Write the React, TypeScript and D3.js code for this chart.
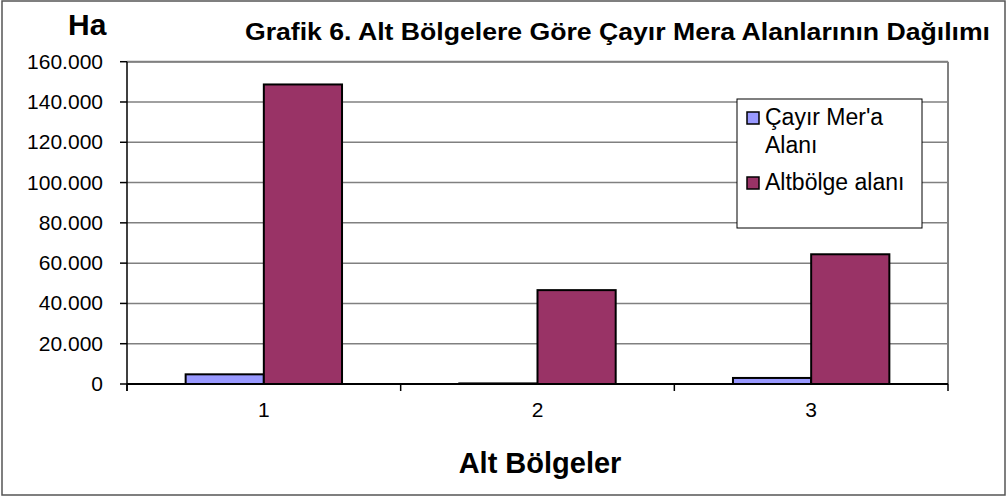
import * as d3 from "d3";

const categories = ["1", "2", "3"];
const seriesNames = ["Çayır Mer'a Alanı", "Altbölge alanı"];
const cayirMeraValues = [4800, 300, 3000];
const altbolgeValues = [148700, 46600, 64400];
const yTicks = [0, 20000, 40000, 60000, 80000, 100000, 120000, 140000, 160000];
const colors = ["#9999FF", "#993366"];

const W = 1007;
const H = 497;
const plot = { left: 127, right: 948, top: 61.7, bottom: 384 };
const font = "'Liberation Sans', Arial, sans-serif";

const trLocale = d3.formatLocale({ decimal: ",", thousands: ".", grouping: [3], currency: ["", ""] });
const fmt = trLocale.format(",d");

export default function App() {
  const x = d3.scaleBand<string>().domain(categories).range([plot.left, plot.right]);
  const y = d3.scaleLinear().domain([0, 160000]).range([plot.bottom, plot.top]);
  // gap width 150% -> group = 2 bars out of 3.5 bar widths
  const barW = x.bandwidth() / 3.5;
  const sub = d3.scaleBand<number>().domain([0, 1])
    .range([x.bandwidth() / 2 - barW, x.bandwidth() / 2 + barW]);
  const series = [cayirMeraValues, altbolgeValues];

  const boundaries = [...categories.map(c => x(c) as number), plot.right];

  return (
    <svg width={W} height={H} style={{ position: "absolute", left: 0, top: 0, background: "#fff" }}>
      <rect x={2} y={1} width={1003} height={494} fill="#fff" stroke="#555" strokeWidth={1.5} />

      {/* gridlines */}
      {yTicks.map(t => (
        <line key={t} x1={plot.left} x2={plot.right} y1={y(t)} y2={y(t)} stroke="#808080" strokeWidth={1.5} />
      ))}
      <line x1={plot.right} x2={plot.right} y1={plot.top} y2={plot.bottom} stroke="#808080" strokeWidth={2} />
      <line x1={plot.left} x2={plot.right} y1={plot.top} y2={plot.top} stroke="#808080" strokeWidth={2} />

      {/* bars */}
      {series.map((vals, si) =>
        categories.map((c, ci) => (
          <rect
            key={`${si}-${c}`}
            x={(x(c) as number) + (sub(si) as number)}
            y={y(vals[ci])}
            width={sub.bandwidth()}
            height={plot.bottom - y(vals[ci])}
            fill={colors[si]}
            stroke="#000"
            strokeWidth={2}
          />
        ))
      )}

      {/* y axis */}
      <line x1={plot.left} x2={plot.left} y1={plot.top} y2={plot.bottom + 7} stroke="#000" strokeWidth={1.5} />
      {yTicks.map(t => (
        <g key={t}>
          <line x1={plot.left - 7} x2={plot.left} y1={y(t)} y2={y(t)} stroke="#000" strokeWidth={1.5} />
          <text x={103} y={y(t) + 7} textAnchor="end" fontFamily={font} fontSize={21} fill="#000">{fmt(t)}</text>
        </g>
      ))}

      {/* x axis */}
      <line x1={plot.left} x2={plot.right} y1={plot.bottom} y2={plot.bottom} stroke="#000" strokeWidth={2} />
      {boundaries.map((b, i) => (
        <line key={i} x1={b} x2={b} y1={plot.bottom} y2={plot.bottom + 7} stroke="#000" strokeWidth={1.5} />
      ))}
      {categories.map(c => (
        <text key={c} x={(x(c) as number) + x.bandwidth() / 2} y={417} textAnchor="middle"
          fontFamily={font} fontSize={21} fill="#000">{c}</text>
      ))}

      {/* titles */}
      <text x={68} y={35} fontFamily={font} fontSize={30} fontWeight="bold" fill="#000">Ha</text>
      <text x={245} y={40} fontFamily={font} fontSize={24} fontWeight="bold" fill="#000"
        textLength={745} lengthAdjust="spacingAndGlyphs">
        Grafik 6. Alt Bölgelere Göre Çayır Mera Alanlarının Dağılımı
      </text>
      <text x={540} y={473} textAnchor="middle" fontFamily={font} fontSize={29} fontWeight="bold" fill="#000">
        Alt Bölgeler
      </text>

      {/* legend */}
      <g>
        <rect x={737} y={99} width={185} height={129} fill="#fff" stroke="#000" strokeWidth={1} />
        <rect x={747} y={112} width={12} height={12} fill={colors[0]} stroke="#000" strokeWidth={1.5} />
        <text x={765} y={125} fontFamily={font} fontSize={23} fill="#000">
          <tspan x={765}>{seriesNames[0].split(" ").slice(0, 2).join(" ")}</tspan>
          <tspan x={765} dy={28}>{seriesNames[0].split(" ").slice(2).join(" ")}</tspan>
        </text>
        <rect x={747} y={177} width={12} height={12} fill={colors[1]} stroke="#000" strokeWidth={1.5} />
        <text x={765} y={190} fontFamily={font} fontSize={23} fill="#000">{seriesNames[1]}</text>
      </g>
    </svg>
  );
}
